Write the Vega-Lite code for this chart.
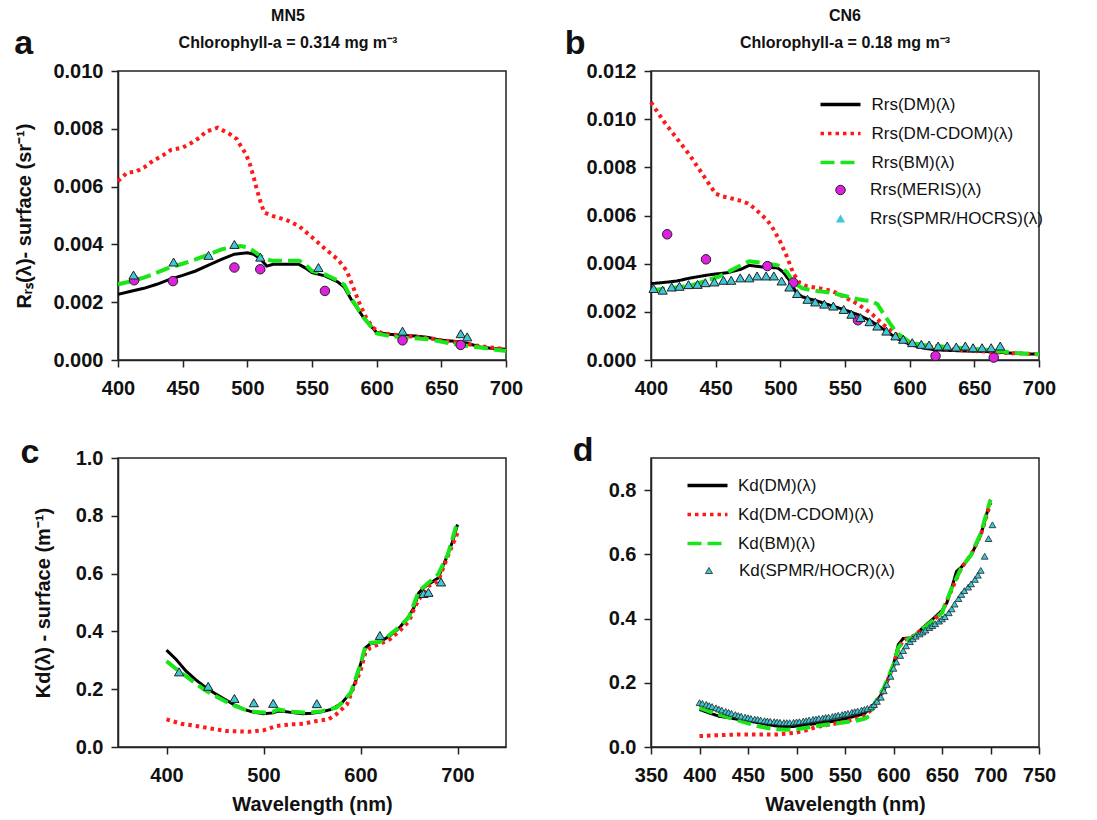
{
  "$schema": "https://vega.github.io/schema/vega-lite/v6.json",
  "padding": {"left": 13, "top": 7, "right": 5, "bottom": 0},
  "background": "white",
  "config": {
    "font": "Liberation Sans",
    "view": {"stroke": "#222222", "strokeWidth": 1.5},
    "axis": {"labelFont": "Liberation Sans", "labelFontSize": 20, "labelFontWeight": "bold", "labelColor": "#111111", "titleFont": "Liberation Sans", "titleFontSize": 20, "titleFontWeight": "bold", "titleColor": "#111111", "domainColor": "#222222", "domainWidth": 1.5, "tickColor": "#222222", "tickWidth": 1.5, "tickSize": 7, "grid": false, "labelPadding": 6, "labelFlush": false, "labelOverlap": false, "titlePadding": 14},
    "axisX": {"labelPadding": 11, "titlePadding": 9},
    "axisY": {"labelPadding": 8},
    "title": {"font": "Liberation Sans", "fontSize": 16, "fontWeight": "bold", "color": "#111111", "subtitleFont": "Liberation Sans", "subtitleFontSize": 16, "subtitleFontWeight": "bold", "subtitleColor": "#111111", "offset": -24, "subtitlePadding": 11, "anchor": "middle", "frame": "group"},
    "legend": {"labelFont": "Liberation Sans", "labelFontSize": 17, "labelColor": "#111111", "labelLimit": 400}
  },
  "resolve": {
    "scale": {"stroke": "independent", "strokeDash": "independent", "fill": "independent", "shape": "independent"},
    "legend": {"stroke": "independent", "strokeDash": "independent", "fill": "independent", "shape": "independent"}
  },
  "columns": 2,
  "spacing": {"row": 34, "column": 40},
  "concat": [
    {
      "width": 388, "height": 289,
      "title": {"text": "MN5", "subtitle": "Chlorophyll-a =  0.314 mg m⁻³", "dx": -24},
      "data": {"values": [
        {"s":"DM","w":400,"v":0.00227},{"s":"DM","w":410,"v":0.00238},{"s":"DM","w":420,"v":0.00248},{"s":"DM","w":430,"v":0.00262},{"s":"DM","w":440,"v":0.00279},{"s":"DM","w":450,"v":0.00293},{"s":"DM","w":460,"v":0.00308},{"s":"DM","w":470,"v":0.00328},{"s":"DM","w":480,"v":0.00348},{"s":"DM","w":490,"v":0.00366},{"s":"DM","w":500,"v":0.00371},{"s":"DM","w":505,"v":0.00366},{"s":"DM","w":510,"v":0.0035},{"s":"DM","w":515,"v":0.00325},{"s":"DM","w":520,"v":0.00331},{"s":"DM","w":530,"v":0.00331},{"s":"DM","w":540,"v":0.00331},{"s":"DM","w":545,"v":0.00318},{"s":"DM","w":550,"v":0.00302},{"s":"DM","w":560,"v":0.00291},{"s":"DM","w":570,"v":0.0027},{"s":"DM","w":575,"v":0.00252},{"s":"DM","w":580,"v":0.00212},{"s":"DM","w":590,"v":0.00146},{"s":"DM","w":600,"v":0.00095},{"s":"DM","w":610,"v":0.00089},{"s":"DM","w":620,"v":0.00085},{"s":"DM","w":630,"v":0.00083},{"s":"DM","w":640,"v":0.00078},{"s":"DM","w":650,"v":0.00068},{"s":"DM","w":660,"v":0.00065},{"s":"DM","w":670,"v":0.00058},{"s":"DM","w":680,"v":0.00045},{"s":"DM","w":690,"v":0.0004},{"s":"DM","w":700,"v":0.00037},
        {"s":"DM-CDOM","w":400,"v":0.00619},{"s":"DM-CDOM","w":407,"v":0.00648},{"s":"DM-CDOM","w":414,"v":0.00652},{"s":"DM-CDOM","w":420,"v":0.00666},{"s":"DM-CDOM","w":427,"v":0.00689},{"s":"DM-CDOM","w":435,"v":0.00709},{"s":"DM-CDOM","w":441,"v":0.00727},{"s":"DM-CDOM","w":450,"v":0.00735},{"s":"DM-CDOM","w":457,"v":0.00752},{"s":"DM-CDOM","w":463,"v":0.00769},{"s":"DM-CDOM","w":468,"v":0.0079},{"s":"DM-CDOM","w":477,"v":0.00804},{"s":"DM-CDOM","w":486,"v":0.00783},{"s":"DM-CDOM","w":492,"v":0.00764},{"s":"DM-CDOM","w":495,"v":0.0074},{"s":"DM-CDOM","w":499,"v":0.00712},{"s":"DM-CDOM","w":502,"v":0.00677},{"s":"DM-CDOM","w":505,"v":0.00631},{"s":"DM-CDOM","w":507,"v":0.00596},{"s":"DM-CDOM","w":510,"v":0.0055},{"s":"DM-CDOM","w":513,"v":0.0051},{"s":"DM-CDOM","w":520,"v":0.00498},{"s":"DM-CDOM","w":530,"v":0.00485},{"s":"DM-CDOM","w":540,"v":0.00463},{"s":"DM-CDOM","w":550,"v":0.00425},{"s":"DM-CDOM","w":560,"v":0.00385},{"s":"DM-CDOM","w":570,"v":0.00348},{"s":"DM-CDOM","w":577,"v":0.00308},{"s":"DM-CDOM","w":582,"v":0.0025},{"s":"DM-CDOM","w":587,"v":0.00193},{"s":"DM-CDOM","w":592,"v":0.00146},{"s":"DM-CDOM","w":597,"v":0.00112},{"s":"DM-CDOM","w":603,"v":0.00095},{"s":"DM-CDOM","w":610,"v":0.00089},{"s":"DM-CDOM","w":620,"v":0.00084},{"s":"DM-CDOM","w":640,"v":0.00076},{"s":"DM-CDOM","w":660,"v":0.00062},{"s":"DM-CDOM","w":680,"v":0.00048},{"s":"DM-CDOM","w":700,"v":0.00037},
        {"s":"BM","w":400,"v":0.00262},{"s":"BM","w":410,"v":0.00272},{"s":"BM","w":420,"v":0.00285},{"s":"BM","w":430,"v":0.00302},{"s":"BM","w":440,"v":0.0032},{"s":"BM","w":450,"v":0.00333},{"s":"BM","w":460,"v":0.00348},{"s":"BM","w":470,"v":0.00365},{"s":"BM","w":480,"v":0.00383},{"s":"BM","w":490,"v":0.00392},{"s":"BM","w":495,"v":0.00394},{"s":"BM","w":500,"v":0.0039},{"s":"BM","w":505,"v":0.00377},{"s":"BM","w":510,"v":0.0036},{"s":"BM","w":515,"v":0.00348},{"s":"BM","w":520,"v":0.00343},{"s":"BM","w":530,"v":0.00343},{"s":"BM","w":540,"v":0.00343},{"s":"BM","w":545,"v":0.0033},{"s":"BM","w":550,"v":0.00308},{"s":"BM","w":560,"v":0.00296},{"s":"BM","w":570,"v":0.00275},{"s":"BM","w":575,"v":0.0026},{"s":"BM","w":580,"v":0.00216},{"s":"BM","w":590,"v":0.00146},{"s":"BM","w":600,"v":0.00092},{"s":"BM","w":610,"v":0.00083},{"s":"BM","w":620,"v":0.00078},{"s":"BM","w":640,"v":0.00072},{"s":"BM","w":660,"v":0.00055},{"s":"BM","w":680,"v":0.00043},{"s":"BM","w":690,"v":0.00037},{"s":"BM","w":700,"v":0.00031},
        {"s":"MERIS","w":412.5,"v":0.00276},{"s":"MERIS","w":442.5,"v":0.00273},{"s":"MERIS","w":490,"v":0.0032},{"s":"MERIS","w":510,"v":0.00314},{"s":"MERIS","w":560,"v":0.00239},{"s":"MERIS","w":620,"v":0.00068},{"s":"MERIS","w":665,"v":0.00052},
        {"s":"SPMR","w":412,"v":0.00294},{"s":"SPMR","w":443,"v":0.00339},{"s":"SPMR","w":470,"v":0.00362},{"s":"SPMR","w":490,"v":0.004},{"s":"SPMR","w":510,"v":0.00356},{"s":"SPMR","w":555,"v":0.0032},{"s":"SPMR","w":620,"v":0.001},{"s":"SPMR","w":665,"v":0.00091},{"s":"SPMR","w":670,"v":0.0008}
      ]},
      "layer": [
        {
          "encoding": {
            "x": {"field": "w", "type": "quantitative", "scale": {"domain": [400, 700], "nice": false, "zero": false}, "axis": {"values": [400, 450, 500, 550, 600, 650, 700], "title": null}},
            "y": {"field": "v", "type": "quantitative", "scale": {"domain": [0, 0.01], "nice": false}, "axis": {"values": [0, 0.002, 0.004, 0.006, 0.008, 0.01], "format": ".3f", "title": "Rᵣₛ(λ)- surface (sr⁻¹)", "titlePadding": 18}}
          },
          "layer": [
            {"transform": [{"filter": "datum.s == 'DM'"}], "mark": {"type": "line", "stroke": "#000000", "strokeWidth": 3}, "encoding": {}},
            {"transform": [{"filter": "datum.s == 'DM-CDOM'"}], "mark": {"type": "line", "stroke": "#ff1a1a", "strokeWidth": 4, "strokeDash": [3.5, 4]}, "encoding": {}},
            {"transform": [{"filter": "datum.s == 'BM'"}], "mark": {"type": "line", "stroke": "#19e619", "strokeWidth": 4, "strokeDash": [14, 6]}, "encoding": {}},
            {"transform": [{"filter": "datum.s == 'MERIS'"}], "mark": {"type": "point", "shape": "circle", "filled": true, "fill": "#e020e0", "stroke": "#222222", "strokeWidth": 1, "size": 90, "opacity": 1}},
            {"transform": [{"filter": "datum.s == 'SPMR'"}], "mark": {"type": "point", "shape": "triangle-up", "filled": true, "fill": "#3cc8d6", "stroke": "#222222", "strokeWidth": 1, "size": 85, "opacity": 1}}
          ]
        },
        {"data": {"values": [{"lab": "a"}]}, "mark": {"type": "text", "font": "Liberation Sans", "fontSize": 34, "fontWeight": "bold", "align": "center", "baseline": "middle", "color": "#111111"}, "encoding": {"x": {"datum": 327, "type": "quantitative"}, "y": {"datum": 0.01093, "type": "quantitative"}, "text": {"field": "lab", "type": "nominal"}}}
      ]
    },
    {
      "width": 388, "height": 289,
      "title": {"text": "CN6", "subtitle": "Chlorophyll-a = 0.18 mg m⁻³", "dx": 0},
      "data": {"values": [
        {"s":"DM","w":400,"v":0.00317},{"s":"DM","w":410,"v":0.00322},{"s":"DM","w":420,"v":0.00328},{"s":"DM","w":430,"v":0.0034},{"s":"DM","w":443,"v":0.00352},{"s":"DM","w":450,"v":0.00357},{"s":"DM","w":460,"v":0.00363},{"s":"DM","w":470,"v":0.00378},{"s":"DM","w":476,"v":0.00393},{"s":"DM","w":486,"v":0.00386},{"s":"DM","w":498,"v":0.00382},{"s":"DM","w":502,"v":0.00366},{"s":"DM","w":507,"v":0.00331},{"s":"DM","w":512,"v":0.00283},{"s":"DM","w":517,"v":0.00262},{"s":"DM","w":529,"v":0.00244},{"s":"DM","w":538,"v":0.00228},{"s":"DM","w":550,"v":0.00208},{"s":"DM","w":560,"v":0.00188},{"s":"DM","w":570,"v":0.00162},{"s":"DM","w":580,"v":0.00127},{"s":"DM","w":590,"v":0.0009},{"s":"DM","w":600,"v":0.00065},{"s":"DM","w":610,"v":0.0005},{"s":"DM","w":620,"v":0.00042},{"s":"DM","w":640,"v":0.00038},{"s":"DM","w":660,"v":0.00035},{"s":"DM","w":680,"v":0.00028},{"s":"DM","w":700,"v":0.00024},
        {"s":"DM-CDOM","w":400,"v":0.0107},{"s":"DM-CDOM","w":405,"v":0.0103},{"s":"DM-CDOM","w":410,"v":0.0099},{"s":"DM-CDOM","w":420,"v":0.0092},{"s":"DM-CDOM","w":430,"v":0.0085},{"s":"DM-CDOM","w":440,"v":0.0077},{"s":"DM-CDOM","w":445,"v":0.0073},{"s":"DM-CDOM","w":450,"v":0.0069},{"s":"DM-CDOM","w":455,"v":0.0068},{"s":"DM-CDOM","w":460,"v":0.00674},{"s":"DM-CDOM","w":470,"v":0.0066},{"s":"DM-CDOM","w":475,"v":0.0065},{"s":"DM-CDOM","w":480,"v":0.0063},{"s":"DM-CDOM","w":490,"v":0.0058},{"s":"DM-CDOM","w":495,"v":0.0054},{"s":"DM-CDOM","w":500,"v":0.0049},{"s":"DM-CDOM","w":505,"v":0.0043},{"s":"DM-CDOM","w":510,"v":0.0036},{"s":"DM-CDOM","w":515,"v":0.0032},{"s":"DM-CDOM","w":520,"v":0.00307},{"s":"DM-CDOM","w":530,"v":0.00298},{"s":"DM-CDOM","w":540,"v":0.00287},{"s":"DM-CDOM","w":550,"v":0.0026},{"s":"DM-CDOM","w":560,"v":0.00232},{"s":"DM-CDOM","w":570,"v":0.00195},{"s":"DM-CDOM","w":580,"v":0.00145},{"s":"DM-CDOM","w":590,"v":0.00105},{"s":"DM-CDOM","w":600,"v":0.00072},{"s":"DM-CDOM","w":610,"v":0.00058},{"s":"DM-CDOM","w":620,"v":0.0005},{"s":"DM-CDOM","w":640,"v":0.0004},{"s":"DM-CDOM","w":660,"v":0.00035},{"s":"DM-CDOM","w":680,"v":0.00028},{"s":"DM-CDOM","w":700,"v":0.00024},
        {"s":"BM","w":400,"v":0.0029},{"s":"BM","w":414,"v":0.00297},{"s":"BM","w":431,"v":0.0031},{"s":"BM","w":452,"v":0.00345},{"s":"BM","w":467,"v":0.00386},{"s":"BM","w":476,"v":0.0041},{"s":"BM","w":486,"v":0.00404},{"s":"BM","w":498,"v":0.00393},{"s":"BM","w":505,"v":0.00366},{"s":"BM","w":510,"v":0.00324},{"s":"BM","w":517,"v":0.00297},{"s":"BM","w":529,"v":0.00286},{"s":"BM","w":538,"v":0.0028},{"s":"BM","w":550,"v":0.00266},{"s":"BM","w":560,"v":0.00252},{"s":"BM","w":565,"v":0.00248},{"s":"BM","w":570,"v":0.00245},{"s":"BM","w":575,"v":0.00232},{"s":"BM","w":580,"v":0.0019},{"s":"BM","w":585,"v":0.0015},{"s":"BM","w":590,"v":0.00112},{"s":"BM","w":600,"v":0.00075},{"s":"BM","w":610,"v":0.00062},{"s":"BM","w":620,"v":0.00058},{"s":"BM","w":640,"v":0.0005},{"s":"BM","w":660,"v":0.00042},{"s":"BM","w":680,"v":0.0003},{"s":"BM","w":700,"v":0.00024},
        {"s":"MERIS","w":412.5,"v":0.00522},{"s":"MERIS","w":442.5,"v":0.00418},{"s":"MERIS","w":490,"v":0.0039},{"s":"MERIS","w":510,"v":0.00321},{"s":"MERIS","w":560,"v":0.00165},{"s":"MERIS","w":620,"v":0.00017},{"s":"MERIS","w":665,"v":0.0001},
        {"s":"SPMR/HOCRS","w":402,"v":0.00297},{"s":"SPMR/HOCRS","w":409,"v":0.0029},{"s":"SPMR/HOCRS","w":416,"v":0.00303},{"s":"SPMR/HOCRS","w":422,"v":0.00306},{"s":"SPMR/HOCRS","w":429,"v":0.00313},{"s":"SPMR/HOCRS","w":436,"v":0.00314},{"s":"SPMR/HOCRS","w":442,"v":0.00321},{"s":"SPMR/HOCRS","w":449,"v":0.00324},{"s":"SPMR/HOCRS","w":456,"v":0.00331},{"s":"SPMR/HOCRS","w":462,"v":0.00331},{"s":"SPMR/HOCRS","w":469,"v":0.00341},{"s":"SPMR/HOCRS","w":476,"v":0.00341},{"s":"SPMR/HOCRS","w":482,"v":0.00349},{"s":"SPMR/HOCRS","w":489,"v":0.00349},{"s":"SPMR/HOCRS","w":495,"v":0.00349},{"s":"SPMR/HOCRS","w":501,"v":0.00328},{"s":"SPMR/HOCRS","w":507,"v":0.00303},{"s":"SPMR/HOCRS","w":513,"v":0.00276},{"s":"SPMR/HOCRS","w":521,"v":0.00252},{"s":"SPMR/HOCRS","w":527,"v":0.00241},{"s":"SPMR/HOCRS","w":534,"v":0.00232},{"s":"SPMR/HOCRS","w":541,"v":0.00224},{"s":"SPMR/HOCRS","w":549,"v":0.0021},{"s":"SPMR/HOCRS","w":555,"v":0.0019},{"s":"SPMR/HOCRS","w":562,"v":0.00176},{"s":"SPMR/HOCRS","w":569,"v":0.00159},{"s":"SPMR/HOCRS","w":575,"v":0.00141},{"s":"SPMR/HOCRS","w":582,"v":0.0012},{"s":"SPMR/HOCRS","w":589,"v":0.001},{"s":"SPMR/HOCRS","w":595,"v":0.00086},{"s":"SPMR/HOCRS","w":602,"v":0.00072},{"s":"SPMR/HOCRS","w":609,"v":0.00065},{"s":"SPMR/HOCRS","w":615,"v":0.00062},{"s":"SPMR/HOCRS","w":622,"v":0.00058},{"s":"SPMR/HOCRS","w":629,"v":0.00058},{"s":"SPMR/HOCRS","w":636,"v":0.00054},{"s":"SPMR/HOCRS","w":643,"v":0.00058},{"s":"SPMR/HOCRS","w":649,"v":0.00051},{"s":"SPMR/HOCRS","w":656,"v":0.00051},{"s":"SPMR/HOCRS","w":663,"v":0.00051},{"s":"SPMR/HOCRS","w":670,"v":0.00058}
      ]},
      "layer": [
        {
          "encoding": {
            "x": {"field": "w", "type": "quantitative", "scale": {"domain": [400, 700], "nice": false, "zero": false}, "axis": {"values": [400, 450, 500, 550, 600, 650, 700], "title": null}},
            "y": {"field": "v", "type": "quantitative", "scale": {"domain": [0, 0.012], "nice": false}, "axis": {"values": [0, 0.002, 0.004, 0.006, 0.008, 0.01, 0.012], "format": ".3f", "title": null}}
          },
          "layer": [
            {"transform": [{"filter": "datum.s == 'DM'"}], "mark": {"type": "line", "strokeWidth": 3},
             "encoding": {
               "stroke": {"field": "s", "type": "nominal", "scale": {"domain": ["DM", "DM-CDOM", "BM"], "range": ["#000000", "#ff1a1a", "#19e619"]},
                 "legend": {"orient": "none", "legendX": 181, "legendY": 25, "direction": "vertical", "title": null, "padding": 0, "labelExpr": "'Rrs(' + datum.label + ')(λ)'", "symbolType": "M-4,0H4", "symbolSize": 100, "symbolStrokeWidth": 3.5, "labelOffset": 22.5, "rowPadding": 11}},
               "strokeDash": {"field": "s", "type": "nominal", "scale": {"domain": ["DM", "DM-CDOM", "BM"], "range": [[1, 0], [3.5, 4], [14, 6]]},
                 "legend": {"orient": "none", "legendX": 181, "legendY": 25, "direction": "vertical", "title": null, "padding": 0, "labelExpr": "'Rrs(' + datum.label + ')(λ)'", "symbolType": "M-4,0H4", "symbolSize": 100, "symbolStrokeWidth": 3.5, "labelOffset": 22.5, "rowPadding": 11}}
             }},
            {"transform": [{"filter": "datum.s == 'DM-CDOM'"}], "mark": {"type": "line", "strokeWidth": 4}, "encoding": {"stroke": {"field": "s", "type": "nominal"}, "strokeDash": {"field": "s", "type": "nominal"}}},
            {"transform": [{"filter": "datum.s == 'BM'"}], "mark": {"type": "line", "strokeWidth": 4}, "encoding": {"stroke": {"field": "s", "type": "nominal"}, "strokeDash": {"field": "s", "type": "nominal"}}},
            {"transform": [{"filter": "datum.s == 'MERIS'"}], "mark": {"type": "point", "shape": "circle", "filled": true, "stroke": "#222222", "strokeWidth": 1, "size": 90, "opacity": 1},
             "encoding": {
               "fill": {"field": "s", "type": "nominal", "scale": {"domain": ["MERIS"], "range": ["#e020e0"]},
                 "legend": {"orient": "none", "legendX": 181, "legendY": 110.5, "direction": "vertical", "title": null, "padding": 0, "labelExpr": "'Rrs(' + datum.label + ')(λ)'", "symbolType": "circle", "symbolSize": 90, "symbolStrokeWidth": 1, "symbolStrokeColor": "#222222", "labelOffset": 21, "rowPadding": 11}}
             }},
            {"transform": [{"filter": "datum.s == 'SPMR/HOCRS'"}], "mark": {"type": "point", "filled": true, "fill": "#3cc8d6", "stroke": "#222222", "strokeWidth": 1, "size": 85, "opacity": 1},
             "encoding": {
               "shape": {"field": "s", "type": "nominal", "scale": {"domain": ["SPMR/HOCRS"], "range": ["triangle-up"]},
                 "legend": {"orient": "none", "legendX": 181, "legendY": 139, "direction": "vertical", "title": null, "padding": 0, "labelExpr": "'Rrs(' + datum.label + ')(λ)'", "symbolSize": 85, "symbolStrokeWidth": 1, "symbolStrokeColor": "#222222", "symbolFillColor": "#3cc8d6", "labelOffset": 21, "rowPadding": 11}}
             }}
          ]
        },
        {"data": {"values": [{"lab": "b"}]}, "mark": {"type": "text", "font": "Liberation Sans", "fontSize": 34, "fontWeight": "bold", "align": "center", "baseline": "middle", "color": "#111111"}, "encoding": {"x": {"datum": 341.4, "type": "quantitative"}, "y": {"datum": 0.01312, "type": "quantitative"}, "text": {"field": "lab", "type": "nominal"}}}
      ]
    },
    {
      "width": 388, "height": 289,
      "data": {"values": [
        {"s":"DM","w":400,"v":0.335},{"s":"DM","w":410,"v":0.303},{"s":"DM","w":420,"v":0.263},{"s":"DM","w":430,"v":0.233},{"s":"DM","w":440,"v":0.207},{"s":"DM","w":450,"v":0.185},{"s":"DM","w":460,"v":0.165},{"s":"DM","w":470,"v":0.146},{"s":"DM","w":480,"v":0.13},{"s":"DM","w":490,"v":0.12},{"s":"DM","w":500,"v":0.115},{"s":"DM","w":510,"v":0.118},{"s":"DM","w":515,"v":0.124},{"s":"DM","w":520,"v":0.124},{"s":"DM","w":530,"v":0.119},{"s":"DM","w":540,"v":0.115},{"s":"DM","w":550,"v":0.117},{"s":"DM","w":560,"v":0.122},{"s":"DM","w":570,"v":0.13},{"s":"DM","w":580,"v":0.15},{"s":"DM","w":590,"v":0.188},{"s":"DM","w":595,"v":0.228},{"s":"DM","w":600,"v":0.286},{"s":"DM","w":605,"v":0.343},{"s":"DM","w":610,"v":0.357},{"s":"DM","w":620,"v":0.364},{"s":"DM","w":630,"v":0.384},{"s":"DM","w":640,"v":0.412},{"s":"DM","w":650,"v":0.453},{"s":"DM","w":655,"v":0.482},{"s":"DM","w":660,"v":0.533},{"s":"DM","w":665,"v":0.551},{"s":"DM","w":670,"v":0.562},{"s":"DM","w":680,"v":0.585},{"s":"DM","w":690,"v":0.666},{"s":"DM","w":695,"v":0.712},{"s":"DM","w":700,"v":0.77},
        {"s":"DM-CDOM","w":400,"v":0.0956},{"s":"DM-CDOM","w":415,"v":0.0806},{"s":"DM-CDOM","w":431,"v":0.0726},{"s":"DM-CDOM","w":445,"v":0.0645},{"s":"DM-CDOM","w":462,"v":0.0553},{"s":"DM-CDOM","w":484,"v":0.053},{"s":"DM-CDOM","w":500,"v":0.0576},{"s":"DM-CDOM","w":513,"v":0.0726},{"s":"DM-CDOM","w":527,"v":0.078},{"s":"DM-CDOM","w":541,"v":0.0806},{"s":"DM-CDOM","w":555,"v":0.09},{"s":"DM-CDOM","w":567,"v":0.0956},{"s":"DM-CDOM","w":575,"v":0.113},{"s":"DM-CDOM","w":586,"v":0.147},{"s":"DM-CDOM","w":594,"v":0.217},{"s":"DM-CDOM","w":600,"v":0.263},{"s":"DM-CDOM","w":605,"v":0.326},{"s":"DM-CDOM","w":610,"v":0.343},{"s":"DM-CDOM","w":620,"v":0.357},{"s":"DM-CDOM","w":630,"v":0.372},{"s":"DM-CDOM","w":640,"v":0.401},{"s":"DM-CDOM","w":650,"v":0.435},{"s":"DM-CDOM","w":655,"v":0.476},{"s":"DM-CDOM","w":660,"v":0.51},{"s":"DM-CDOM","w":670,"v":0.556},{"s":"DM-CDOM","w":680,"v":0.574},{"s":"DM-CDOM","w":690,"v":0.66},{"s":"DM-CDOM","w":700,"v":0.741},
        {"s":"BM","w":400,"v":0.297},{"s":"BM","w":410,"v":0.27},{"s":"BM","w":420,"v":0.245},{"s":"BM","w":430,"v":0.22},{"s":"BM","w":440,"v":0.196},{"s":"BM","w":450,"v":0.177},{"s":"BM","w":460,"v":0.159},{"s":"BM","w":470,"v":0.143},{"s":"BM","w":480,"v":0.13},{"s":"BM","w":490,"v":0.122},{"s":"BM","w":500,"v":0.119},{"s":"BM","w":510,"v":0.122},{"s":"BM","w":515,"v":0.13},{"s":"BM","w":520,"v":0.127},{"s":"BM","w":530,"v":0.122},{"s":"BM","w":540,"v":0.119},{"s":"BM","w":550,"v":0.12},{"s":"BM","w":560,"v":0.124},{"s":"BM","w":575,"v":0.136},{"s":"BM","w":580,"v":0.15},{"s":"BM","w":590,"v":0.188},{"s":"BM","w":600,"v":0.286},{"s":"BM","w":605,"v":0.349},{"s":"BM","w":610,"v":0.36},{"s":"BM","w":620,"v":0.364},{"s":"BM","w":630,"v":0.388},{"s":"BM","w":640,"v":0.415},{"s":"BM","w":650,"v":0.449},{"s":"BM","w":660,"v":0.539},{"s":"BM","w":670,"v":0.568},{"s":"BM","w":680,"v":0.597},{"s":"BM","w":690,"v":0.666},{"s":"BM","w":700,"v":0.78},
        {"s":"SPMR","w":413,"v":0.26},{"s":"SPMR","w":443,"v":0.21},{"s":"SPMR","w":470,"v":0.168},{"s":"SPMR","w":490,"v":0.153},{"s":"SPMR","w":510,"v":0.151},{"s":"SPMR","w":555,"v":0.15},{"s":"SPMR","w":620,"v":0.386},{"s":"SPMR","w":665,"v":0.531},{"s":"SPMR","w":670,"v":0.535},{"s":"SPMR","w":683,"v":0.571}
      ]},
      "layer": [
        {
          "encoding": {
            "x": {"field": "w", "type": "quantitative", "scale": {"domain": [350, 750], "nice": false, "zero": false}, "axis": {"values": [400, 500, 600, 700], "title": "Wavelength (nm)"}},
            "y": {"field": "v", "type": "quantitative", "scale": {"domain": [0, 1], "nice": false}, "axis": {"values": [0, 0.2, 0.4, 0.6, 0.8, 1.0], "format": ".1f", "title": "Kd(λ) - surface (m⁻¹)", "titlePadding": 22}}
          },
          "layer": [
            {"transform": [{"filter": "datum.s == 'DM'"}], "mark": {"type": "line", "stroke": "#000000", "strokeWidth": 3}, "encoding": {}},
            {"transform": [{"filter": "datum.s == 'DM-CDOM'"}], "mark": {"type": "line", "stroke": "#ff1a1a", "strokeWidth": 4, "strokeDash": [3.5, 4]}, "encoding": {}},
            {"transform": [{"filter": "datum.s == 'BM'"}], "mark": {"type": "line", "stroke": "#19e619", "strokeWidth": 4, "strokeDash": [14, 6]}, "encoding": {}},
            {"transform": [{"filter": "datum.s == 'SPMR'"}], "mark": {"type": "point", "shape": "triangle-up", "filled": true, "fill": "#3cc8d6", "stroke": "#222222", "strokeWidth": 1, "size": 85, "opacity": 1}}
          ]
        },
        {"data": {"values": [{"lab": "c"}]}, "mark": {"type": "text", "font": "Liberation Sans", "fontSize": 34, "fontWeight": "bold", "align": "center", "baseline": "middle", "color": "#111111"}, "encoding": {"x": {"datum": 259.3, "type": "quantitative"}, "y": {"datum": 1.017, "type": "quantitative"}, "text": {"field": "lab", "type": "nominal"}}}
      ]
    },
    {
      "width": 388, "height": 289,
      "data": {"values": [
        {"s":"DM","w":400,"v":0.117},{"s":"DM","w":410,"v":0.106},{"s":"DM","w":420,"v":0.096},{"s":"DM","w":430,"v":0.091},{"s":"DM","w":440,"v":0.086},{"s":"DM","w":450,"v":0.081},{"s":"DM","w":460,"v":0.076},{"s":"DM","w":470,"v":0.07},{"s":"DM","w":480,"v":0.065},{"s":"DM","w":490,"v":0.062},{"s":"DM","w":500,"v":0.065},{"s":"DM","w":510,"v":0.069},{"s":"DM","w":520,"v":0.073},{"s":"DM","w":530,"v":0.077},{"s":"DM","w":540,"v":0.081},{"s":"DM","w":550,"v":0.088},{"s":"DM","w":560,"v":0.096},{"s":"DM","w":570,"v":0.104},{"s":"DM","w":580,"v":0.133},{"s":"DM","w":590,"v":0.174},{"s":"DM","w":595,"v":0.216},{"s":"DM","w":600,"v":0.257},{"s":"DM","w":605,"v":0.319},{"s":"DM","w":610,"v":0.338},{"s":"DM","w":620,"v":0.34},{"s":"DM","w":630,"v":0.371},{"s":"DM","w":640,"v":0.397},{"s":"DM","w":650,"v":0.425},{"s":"DM","w":655,"v":0.449},{"s":"DM","w":660,"v":0.495},{"s":"DM","w":665,"v":0.547},{"s":"DM","w":670,"v":0.56},{"s":"DM","w":680,"v":0.597},{"s":"DM","w":690,"v":0.661},{"s":"DM","w":695,"v":0.713},{"s":"DM","w":700,"v":0.77},
        {"s":"DM-CDOM","w":400,"v":0.034},{"s":"DM-CDOM","w":420,"v":0.037},{"s":"DM-CDOM","w":440,"v":0.039},{"s":"DM-CDOM","w":460,"v":0.039},{"s":"DM-CDOM","w":480,"v":0.039},{"s":"DM-CDOM","w":500,"v":0.045},{"s":"DM-CDOM","w":510,"v":0.052},{"s":"DM-CDOM","w":520,"v":0.062},{"s":"DM-CDOM","w":540,"v":0.073},{"s":"DM-CDOM","w":560,"v":0.086},{"s":"DM-CDOM","w":570,"v":0.096},{"s":"DM-CDOM","w":580,"v":0.124},{"s":"DM-CDOM","w":590,"v":0.179},{"s":"DM-CDOM","w":600,"v":0.252},{"s":"DM-CDOM","w":605,"v":0.304},{"s":"DM-CDOM","w":610,"v":0.332},{"s":"DM-CDOM","w":620,"v":0.345},{"s":"DM-CDOM","w":630,"v":0.368},{"s":"DM-CDOM","w":640,"v":0.392},{"s":"DM-CDOM","w":650,"v":0.42},{"s":"DM-CDOM","w":660,"v":0.49},{"s":"DM-CDOM","w":670,"v":0.558},{"s":"DM-CDOM","w":680,"v":0.599},{"s":"DM-CDOM","w":690,"v":0.661},{"s":"DM-CDOM","w":700,"v":0.76},
        {"s":"BM","w":400,"v":0.122},{"s":"BM","w":410,"v":0.111},{"s":"BM","w":420,"v":0.101},{"s":"BM","w":430,"v":0.092},{"s":"BM","w":440,"v":0.083},{"s":"BM","w":450,"v":0.074},{"s":"BM","w":460,"v":0.065},{"s":"BM","w":470,"v":0.059},{"s":"BM","w":480,"v":0.055},{"s":"BM","w":490,"v":0.054},{"s":"BM","w":500,"v":0.055},{"s":"BM","w":510,"v":0.06},{"s":"BM","w":520,"v":0.065},{"s":"BM","w":530,"v":0.069},{"s":"BM","w":540,"v":0.073},{"s":"BM","w":550,"v":0.077},{"s":"BM","w":560,"v":0.081},{"s":"BM","w":570,"v":0.088},{"s":"BM","w":575,"v":0.096},{"s":"BM","w":580,"v":0.133},{"s":"BM","w":590,"v":0.184},{"s":"BM","w":600,"v":0.257},{"s":"BM","w":605,"v":0.309},{"s":"BM","w":610,"v":0.328},{"s":"BM","w":620,"v":0.342},{"s":"BM","w":630,"v":0.368},{"s":"BM","w":640,"v":0.392},{"s":"BM","w":650,"v":0.418},{"s":"BM","w":660,"v":0.495},{"s":"BM","w":670,"v":0.558},{"s":"BM","w":680,"v":0.599},{"s":"BM","w":690,"v":0.666},{"s":"BM","w":700,"v":0.77},
        {"s":"SPMR/HOCR","w":400,"v":0.138},{"s":"SPMR/HOCR","w":403,"v":0.136},{"s":"SPMR/HOCR","w":407,"v":0.133},{"s":"SPMR/HOCR","w":410,"v":0.129},{"s":"SPMR/HOCR","w":413,"v":0.126},{"s":"SPMR/HOCR","w":417,"v":0.122},{"s":"SPMR/HOCR","w":420,"v":0.118},{"s":"SPMR/HOCR","w":423,"v":0.115},{"s":"SPMR/HOCR","w":427,"v":0.111},{"s":"SPMR/HOCR","w":430,"v":0.108},{"s":"SPMR/HOCR","w":433,"v":0.105},{"s":"SPMR/HOCR","w":437,"v":0.101},{"s":"SPMR/HOCR","w":440,"v":0.098},{"s":"SPMR/HOCR","w":443,"v":0.096},{"s":"SPMR/HOCR","w":447,"v":0.093},{"s":"SPMR/HOCR","w":450,"v":0.091},{"s":"SPMR/HOCR","w":453,"v":0.089},{"s":"SPMR/HOCR","w":457,"v":0.087},{"s":"SPMR/HOCR","w":460,"v":0.086},{"s":"SPMR/HOCR","w":463,"v":0.084},{"s":"SPMR/HOCR","w":467,"v":0.082},{"s":"SPMR/HOCR","w":470,"v":0.081},{"s":"SPMR/HOCR","w":473,"v":0.08},{"s":"SPMR/HOCR","w":477,"v":0.079},{"s":"SPMR/HOCR","w":480,"v":0.078},{"s":"SPMR/HOCR","w":483,"v":0.077},{"s":"SPMR/HOCR","w":487,"v":0.076},{"s":"SPMR/HOCR","w":490,"v":0.076},{"s":"SPMR/HOCR","w":493,"v":0.076},{"s":"SPMR/HOCR","w":497,"v":0.077},{"s":"SPMR/HOCR","w":500,"v":0.078},{"s":"SPMR/HOCR","w":503,"v":0.079},{"s":"SPMR/HOCR","w":507,"v":0.081},{"s":"SPMR/HOCR","w":510,"v":0.082},{"s":"SPMR/HOCR","w":513,"v":0.084},{"s":"SPMR/HOCR","w":517,"v":0.086},{"s":"SPMR/HOCR","w":520,"v":0.087},{"s":"SPMR/HOCR","w":523,"v":0.089},{"s":"SPMR/HOCR","w":527,"v":0.09},{"s":"SPMR/HOCR","w":530,"v":0.092},{"s":"SPMR/HOCR","w":533,"v":0.093},{"s":"SPMR/HOCR","w":537,"v":0.095},{"s":"SPMR/HOCR","w":540,"v":0.097},{"s":"SPMR/HOCR","w":543,"v":0.099},{"s":"SPMR/HOCR","w":547,"v":0.101},{"s":"SPMR/HOCR","w":550,"v":0.103},{"s":"SPMR/HOCR","w":553,"v":0.105},{"s":"SPMR/HOCR","w":557,"v":0.108},{"s":"SPMR/HOCR","w":560,"v":0.11},{"s":"SPMR/HOCR","w":563,"v":0.112},{"s":"SPMR/HOCR","w":567,"v":0.115},{"s":"SPMR/HOCR","w":570,"v":0.117},{"s":"SPMR/HOCR","w":573,"v":0.12},{"s":"SPMR/HOCR","w":577,"v":0.125},{"s":"SPMR/HOCR","w":580,"v":0.132},{"s":"SPMR/HOCR","w":583,"v":0.142},{"s":"SPMR/HOCR","w":587,"v":0.155},{"s":"SPMR/HOCR","w":590,"v":0.175},{"s":"SPMR/HOCR","w":593,"v":0.195},{"s":"SPMR/HOCR","w":597,"v":0.22},{"s":"SPMR/HOCR","w":600,"v":0.245},{"s":"SPMR/HOCR","w":603,"v":0.265},{"s":"SPMR/HOCR","w":607,"v":0.285},{"s":"SPMR/HOCR","w":610,"v":0.3},{"s":"SPMR/HOCR","w":613,"v":0.315},{"s":"SPMR/HOCR","w":617,"v":0.328},{"s":"SPMR/HOCR","w":620,"v":0.337},{"s":"SPMR/HOCR","w":623,"v":0.345},{"s":"SPMR/HOCR","w":627,"v":0.352},{"s":"SPMR/HOCR","w":630,"v":0.358},{"s":"SPMR/HOCR","w":633,"v":0.364},{"s":"SPMR/HOCR","w":637,"v":0.372},{"s":"SPMR/HOCR","w":640,"v":0.378},{"s":"SPMR/HOCR","w":643,"v":0.384},{"s":"SPMR/HOCR","w":647,"v":0.392},{"s":"SPMR/HOCR","w":650,"v":0.399},{"s":"SPMR/HOCR","w":653,"v":0.406},{"s":"SPMR/HOCR","w":657,"v":0.418},{"s":"SPMR/HOCR","w":660,"v":0.43},{"s":"SPMR/HOCR","w":663,"v":0.445},{"s":"SPMR/HOCR","w":667,"v":0.462},{"s":"SPMR/HOCR","w":670,"v":0.475},{"s":"SPMR/HOCR","w":673,"v":0.487},{"s":"SPMR/HOCR","w":677,"v":0.498},{"s":"SPMR/HOCR","w":680,"v":0.508},{"s":"SPMR/HOCR","w":684,"v":0.522},{"s":"SPMR/HOCR","w":687,"v":0.535},{"s":"SPMR/HOCR","w":690,"v":0.55},{"s":"SPMR/HOCR","w":694,"v":0.594},{"s":"SPMR/HOCR","w":698,"v":0.649},{"s":"SPMR/HOCR","w":702,"v":0.692}
      ]},
      "layer": [
        {
          "encoding": {
            "x": {"field": "w", "type": "quantitative", "scale": {"domain": [350, 750], "nice": false, "zero": false}, "axis": {"values": [350, 400, 450, 500, 550, 600, 650, 700, 750], "title": "Wavelength (nm)"}},
            "y": {"field": "v", "type": "quantitative", "scale": {"domain": [0, 0.9], "nice": false}, "axis": {"values": [0, 0.2, 0.4, 0.6, 0.8], "format": ".1f", "title": null}}
          },
          "layer": [
            {"transform": [{"filter": "datum.s == 'DM'"}], "mark": {"type": "line", "strokeWidth": 3},
             "encoding": {
               "stroke": {"field": "s", "type": "nominal", "scale": {"domain": ["DM", "DM-CDOM", "BM"], "range": ["#000000", "#ff1a1a", "#19e619"]},
                 "legend": {"orient": "none", "legendX": 48, "legendY": 19, "direction": "vertical", "title": null, "padding": 0, "labelExpr": "'Kd(' + datum.label + ')(λ)'", "symbolType": "M-4,0H4", "symbolSize": 100, "symbolStrokeWidth": 3.5, "labelOffset": 22, "rowPadding": 11}},
               "strokeDash": {"field": "s", "type": "nominal", "scale": {"domain": ["DM", "DM-CDOM", "BM"], "range": [[1, 0], [3.5, 4], [14, 6]]},
                 "legend": {"orient": "none", "legendX": 48, "legendY": 19, "direction": "vertical", "title": null, "padding": 0, "labelExpr": "'Kd(' + datum.label + ')(λ)'", "symbolType": "M-4,0H4", "symbolSize": 100, "symbolStrokeWidth": 3.5, "labelOffset": 22, "rowPadding": 11}}
             }},
            {"transform": [{"filter": "datum.s == 'DM-CDOM'"}], "mark": {"type": "line", "strokeWidth": 4}, "encoding": {"stroke": {"field": "s", "type": "nominal"}, "strokeDash": {"field": "s", "type": "nominal"}}},
            {"transform": [{"filter": "datum.s == 'BM'"}], "mark": {"type": "line", "strokeWidth": 4}, "encoding": {"stroke": {"field": "s", "type": "nominal"}, "strokeDash": {"field": "s", "type": "nominal"}}},
            {"transform": [{"filter": "datum.s == 'SPMR/HOCR'"}], "mark": {"type": "point", "shape": "triangle-up", "filled": true, "stroke": "#222222", "strokeWidth": 0.8, "size": 45, "opacity": 1},
             "encoding": {"fill": {"field": "s", "type": "nominal", "scale": {"domain": ["SPMR/HOCR"], "range": ["#3cc8d6"]},
               "legend": {"orient": "none", "legendX": 49.5, "legendY": 104, "direction": "vertical", "title": null, "padding": 0, "labelExpr": "'Kd(' + datum.label + ')(λ)'", "symbolType": "triangle-up", "symbolSize": 50, "symbolStrokeWidth": 0.8, "symbolStrokeColor": "#222222", "labelOffset": 21.5, "rowPadding": 11}}}}
          ]
        },
        {"data": {"values": [{"lab": "d"}]}, "mark": {"type": "text", "font": "Liberation Sans", "fontSize": 34, "fontWeight": "bold", "align": "center", "baseline": "middle", "color": "#111111"}, "encoding": {"x": {"datum": 280, "type": "quantitative"}, "y": {"datum": 0.922, "type": "quantitative"}, "text": {"field": "lab", "type": "nominal"}}}
      ]
    }
  ]
}
